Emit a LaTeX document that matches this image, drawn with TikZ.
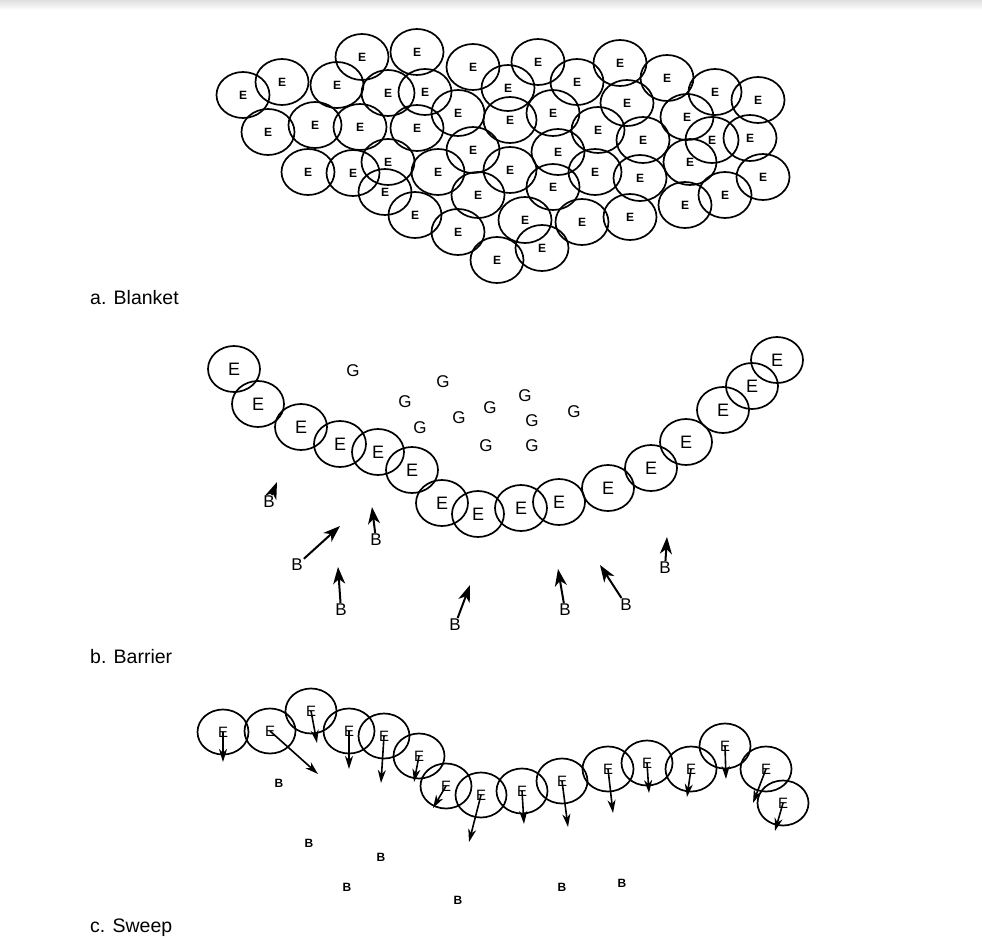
\documentclass[tikz,border=0pt]{standalone}
\usepackage{fontspec}
\setmainfont{Liberation Sans}
\usetikzlibrary{shapes.geometric,arrows.meta}

\begin{document}
\begin{tikzpicture}[x=1pt, y=-1pt,
  blanket/.style={ellipse, draw, line width=1.7pt, inner sep=0pt, minimum width=53pt, minimum height=46pt, font=\fontsize{12}{12}\selectfont\bfseries},
  barrier/.style={ellipse, draw, line width=1.7pt, inner sep=0pt, minimum width=52pt, minimum height=46pt, font=\fontsize{18}{18}\selectfont},
  sweep/.style={ellipse, draw, line width=1.7pt, inner sep=0pt, minimum width=51pt, minimum height=45pt, font=\fontsize{15}{15}\selectfont},
  goal/.style={font=\fontsize{17}{17}\selectfont},
  bad/.style={font=\fontsize{17}{17}\selectfont, inner sep=1pt},
  badsmall/.style={font=\fontsize{12}{12}\selectfont\bfseries},
  caption/.style={anchor=west, inner sep=0pt, font=\fontsize{19.5}{19.5}\selectfont},
  arr/.style={-{Stealth[length=17pt,width=12pt,inset=5pt]}, line width=2pt},
  sarr/.style={-{Stealth[length=13pt,width=8pt,inset=4pt]}, line width=1.6pt}
]
\useasboundingbox (0,0) rectangle (982,939);
\shade[top color=gray!25, bottom color=white] (0,0) rectangle (982,10);

% a. Blanket
\foreach \x/\y [count=\i] in {362/57, 417/52, 473/67, 243/95, 282/82, 337/85, 388/93, 425/92,
    458/113, 268/132, 315/125, 360/127, 417/128, 473/150, 308/172, 353/173, 388/162, 385/192,
    438/172, 478/195, 415/215, 458/232, 497/260, 538/62, 508/88, 577/82, 620/63, 667/78,
    715/92, 758/100, 510/120, 553/113, 598/130, 627/103, 643/140, 687/117, 712/140, 750/138,
    558/152, 510/170, 595/172, 553/187, 640/178, 690/162, 763/177, 725/195, 685/205, 630/217,
    582/222, 525/220, 542/248}
  \node[blanket] (ea\i) at (\x,\y) {E};
\node[caption] (capa) at (90,298) {a. Blanket};

% b. Barrier
\foreach \x/\y [count=\i] in {234/369, 258/404, 301/427, 340/444, 378/452, 412/470, 442/503,
    478/514, 521/508, 559/502, 608/488, 651/468, 686/442, 723/410, 752/386, 777/360}
  \node[barrier] (eb\i) at (\x,\y) {E};
\foreach \x/\y [count=\i] in {353/371, 443/382, 405/402, 490/408, 459/418, 420/428,
    486/446, 525/396, 532/421, 532/446, 574/412}
  \node[goal] (g\i) at (\x,\y) {G};
\foreach \x/\y/\tx/\ty [count=\i] in {269/502/277/482, 297/565/340/526, 376/540/372/507,
    341/610/338/567, 455/625/470/585, 565/610/558/569, 626/605/600/565, 665/568/667/537} {
  \node[bad] (bb\i) at (\x,\y) {B};
  \coordinate (bt\i) at (\tx,\ty);
  \draw[arr] (bb\i) -- (bt\i);
}
\node[caption] (capb) at (90,657) {b. Barrier};

% c. Sweep
\foreach \x/\y/\tx/\ty [count=\i] in {223/732/223/762, 270/731/318/774, 311/711/317/743,
    349/731/349/769, 384/736/381/783, 419/756/414/782, 446/786/433/808, 481/795/469/842,
    522/791/524/824, 562/781/568/827, 608/769/613/813, 647/763/649/793, 691/769/687/797,
    725/746/726/779, 766/769/753/803, 783/803/775/831} {
  \node[sweep] (ec\i) at (\x,\y) {E};
  \coordinate (ct\i) at (\tx,\ty);
  \draw[sarr] (ec\i.center) -- (ct\i);
}
\foreach \x/\y [count=\i] in {279/783, 309/843, 381/857, 347/887, 458/900, 562/887, 622/883}
  \node[badsmall] (bc\i) at (\x,\y) {B};
\node[caption] (capc) at (90,928) {c. Sweep};
\end{tikzpicture}
\end{document}
